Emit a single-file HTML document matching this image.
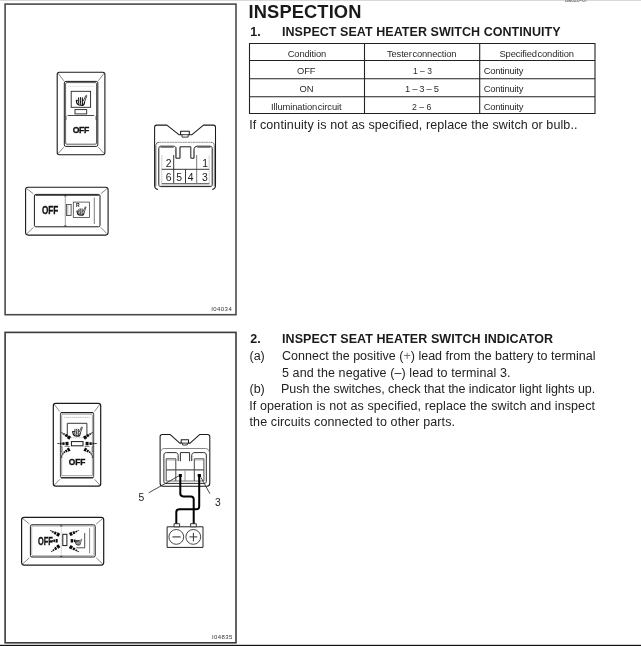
<!DOCTYPE html>
<html><head><meta charset="utf-8">
<style>
html,body{margin:0;padding:0;background:#fff;}
body{filter:grayscale(1);}
body{width:641px;height:646px;position:relative;overflow:hidden;font-family:"Liberation Sans",sans-serif;}
.t{position:absolute;white-space:nowrap;line-height:1;}
svg{position:absolute;left:0;top:0;}
svg text{font-family:"Liberation Sans",sans-serif;stroke:none;}
</style></head><body>
<svg width="641" height="646" viewBox="0 0 641 646" fill="none" stroke="#222" stroke-width="1">
<rect x="0" y="0" width="641" height="0.9" fill="#d4d4d4" stroke="none"/>
<rect x="0" y="644.8" width="641" height="1.2" fill="#111" stroke="none"/>
<rect x="5.1" y="4.1" width="230.9" height="310.6" stroke="#4a4a4a" stroke-width="1.6"/>
<rect x="5.1" y="332.4" width="230.9" height="310.4" stroke="#3a3a3a" stroke-width="1.6"/>
<g stroke="#222" stroke-width="1.1">
<path d="M249.5 43.5H595V113.5H249.5ZM249.5 60.5H595M249.5 78.7H595M249.5 96.7H595M364.5 43.5V113.5M479.7 43.5V113.5"/>
</g>

<g id="vsw1">
<rect x="57.2" y="72.2" width="47.7" height="82.5" rx="2.2" stroke="#1a1a1a" stroke-width="1.1"/>
<path d="M58.2 73.4L63.8 80.8M103.9 73.4L98.4 80.8M58.2 153.3L63.8 147.2M103.9 153.3L98.4 147.2" stroke="#555" stroke-width="0.7"/>
<rect x="64.3" y="81.4" width="33.5" height="65" rx="1.5" stroke="#1a1a1a" stroke-width="1"/>
<rect x="65.6" y="82.6" width="30.9" height="61.6" rx="1.2" stroke="#333" stroke-width="0.8"/>
<path d="M68 86.4H94" stroke="#c4c4c4" stroke-width="0.6" stroke-dasharray="1.2 0.6"/>
<rect x="71.2" y="91.3" width="19.4" height="16" stroke="#222" stroke-width="0.9"/>
<g transform="translate(81.2 100.6)" fill="none" stroke="#111" stroke-linecap="round" stroke-linejoin="round">  <path d="M2.1 0.2 L4.6 -5 C5 -5.6 5.8 -5.2 5.5 -4.4 L3.3 1.6" stroke-width="0.8"/>
  <path d="M-4.9 -0.3 L-3 -0.3" stroke-width="1"/>
  <path d="M-4.8 0 C-4.8 2.2 -3.8 4 -2.4 4.4 L1.6 4.7 C2.8 4.5 3.2 3.2 3.3 1.6" stroke-width="1.2"/>
  <path d="M-2.5 -2.7 C-3.3 -1.6 -1.7 -0.8 -2.5 0.5 C-3.2 1.6 -1.8 2.4 -2.4 3.9" stroke-width="1.05"/>
  <path d="M-0.6 -3 C-1.4 -1.9 0.2 -1.1 -0.6 0.3 C-1.3 1.5 0.1 2.4 -0.5 4" stroke-width="1.05"/>
  <path d="M1.2 -2.7 C0.4 -1.6 2 -0.8 1.2 0.5 C0.5 1.6 1.9 2.4 1.3 3.9" stroke-width="1.05"/></g>
<rect x="75" y="109.6" width="11.7" height="4.3" stroke="#222" stroke-width="0.9"/>
<path d="M67.6 115.5H94.2" stroke="#333" stroke-width="0.9"/>
<path d="M64.6 116.4h1.6v3.2h-1.6M97.4 116.4h-1.6v3.2h1.6" stroke="#444" stroke-width="0.6"/>

</g>
<g id="hsw1">
<rect x="25.6" y="187.3" width="82.5" height="47.8" rx="2.5" stroke="#1a1a1a" stroke-width="1.1"/>
<path d="M27 188.8L33.4 193.8M106.8 188.8L100.8 193.8M27 233.6L33.4 227.4M106.8 233.6L100.8 227.4" stroke="#555" stroke-width="0.7"/>
<rect x="34.4" y="194.4" width="65.6" height="32.4" rx="1.5" stroke="#1a1a1a" stroke-width="1"/>
<path d="M35.5 195.5H99" stroke="#333" stroke-width="0.8"/>
<path d="M65.3 196V226" stroke="#777" stroke-width="0.7"/>
<path d="M63.9 195.8h2.6M63.9 226h2.6" stroke="#333" stroke-width="0.9"/>
<rect x="66.5" y="204.4" width="4.6" height="11" stroke="#333" stroke-width="0.8"/><rect x="66.9" y="204.8" width="1.6" height="10.2" fill="#c8c8c8" stroke="none"/>
<rect x="73.3" y="202.1" width="16.1" height="15.4" stroke="#444" stroke-width="0.8"/>
<g transform="translate(81.2 211.3) scale(0.86)" fill="none" stroke="#111" stroke-linecap="round" stroke-linejoin="round">  <path d="M2.1 0.2 L4.6 -5 C5 -5.6 5.8 -5.2 5.5 -4.4 L3.3 1.6" stroke-width="0.8"/>
  <path d="M-4.9 -0.3 L-3 -0.3" stroke-width="1"/>
  <path d="M-4.8 0 C-4.8 2.2 -3.8 4 -2.4 4.4 L1.6 4.7 C2.8 4.5 3.2 3.2 3.3 1.6" stroke-width="1.2"/>
  <path d="M-2.5 -2.7 C-3.3 -1.6 -1.7 -0.8 -2.5 0.5 C-3.2 1.6 -1.8 2.4 -2.4 3.9" stroke-width="1.05"/>
  <path d="M-0.6 -3 C-1.4 -1.9 0.2 -1.1 -0.6 0.3 C-1.3 1.5 0.1 2.4 -0.5 4" stroke-width="1.05"/>
  <path d="M1.2 -2.7 C0.4 -1.6 2 -0.8 1.2 0.5 C0.5 1.6 1.9 2.4 1.3 3.9" stroke-width="1.05"/></g>

<path d="M94.3 197.6V224" stroke="#444" stroke-width="0.7"/>

</g>
<g id="conn1" stroke-linejoin="round">
<path d="M158 189.6C155.6 189.2 154.6 187.8 154.6 185.6V127.3C154.6 125.8 155.4 125.1 156.8 125.1H166.9L178.9 134.7H180.6V131.2H189.3V134.7H192L203.5 125.1H213.4C214.8 125.1 215.5 125.8 215.5 127.3V185.6C215.5 187.8 214.5 189.2 212.2 189.6" stroke="#1a1a1a" stroke-width="1.05"/>
<path d="M180.6 134.7H189.3M182 134.7V137.1H188.2V134.7" stroke="#222" stroke-width="0.9"/>
<path d="M155.8 186.4V145.6C155.9 143.4 157 142.3 159.2 142.3" stroke="#333" stroke-width="0.8"/>
<path d="M159.2 142.3H211" stroke="#777" stroke-width="0.8" stroke-dasharray="2.2 0.4"/>
<path d="M211 142.3C213.2 142.3 214.3 143.4 214.3 145.6V186.4" stroke="#555" stroke-width="0.8"/>
<path d="M158.8 148.4C158.8 147 159.6 146.2 161 146.2H173.6C175 146.2 175.9 147 175.9 148.6V158.2H180V146.8H190.8V158.2H194V150C194 147.4 195.2 146.2 197.4 146.2H210C211.4 146.2 212.2 147 212.2 148.4V184.8C212.2 186 211.5 186.6 210.3 186.6H160.7C159.5 186.6 158.8 186 158.8 184.8Z" stroke="#1a1a1a" stroke-width="1"/>
<path d="M160.6 147.5H173.8M197.2 147.5H210.4" stroke="#555" stroke-width="0.7"/><path d="M160.2 185.2H210.8" stroke="#999" stroke-width="0.6"/>
<path d="M176.3 147V158.2M179.8 158.2V147M190.5 147V158M193.9 158V150" stroke="#666" stroke-width="0.5"/>
<path d="M161.8 155V184H209.2V155" stroke="#aaa" stroke-width="0.7" stroke-dasharray="1.6 0.5"/><path d="M161.8 183.6H209.2" stroke="#555" stroke-width="0.9"/>
<path d="M161.8 169.3H209.2" stroke="#222" stroke-width="0.9"/>
<path d="M173.7 155V183.1M185.5 169.4V183.1" stroke="#222" stroke-width="0.9"/>
<path d="M196.7 155V183.1" stroke="#555" stroke-width="0.8"/>
</g>
<g id="vsw2">
<rect x="53.3" y="403.4" width="47.4" height="82.8" rx="2.4" stroke="#1a1a1a" stroke-width="1.2"/>
<path d="M54.4 404.6L59.8 411.6M99.6 404.6L94.4 411.6M54.4 484.9L59.9 479.3M99.7 484.9L94.6 479.3" stroke="#555" stroke-width="0.7"/>
<rect x="60.4" y="412.6" width="33.3" height="65.2" rx="1.5" stroke="#3a3a3a" stroke-width="0.95"/>
<path d="M61.7 475.7V415.4C61.7 414.6 62.1 414.2 62.9 414.2H91.2C92 414.2 92.4 414.6 92.4 415.4V475.7Z" stroke="#777" stroke-width="0.7"/>
<path d="M60.9 412.6H93.2M60.9 477.8H93.2" stroke="#1a1a1a" stroke-width="1"/>
<path d="M64.4 446.5H70M84.4 446.5H89.6" stroke="#666" stroke-width="0.7"/>
<path d="M64.2 417.4H89.9" stroke="#999" stroke-width="0.6" stroke-dasharray="1.4 0.5"/>
<path d="M67.3 437V423.3H86.9V437" stroke="#222" stroke-width="0.9"/>
<path d="M71 437.8H83.4" stroke="#999" stroke-width="0.6" stroke-dasharray="1 0.6"/>
<g transform="translate(77.2 431.8) scale(0.92)" fill="none" stroke="#111" stroke-linecap="round" stroke-linejoin="round">  <path d="M2.1 0.2 L4.6 -5 C5 -5.6 5.8 -5.2 5.5 -4.4 L3.3 1.6" stroke-width="0.8"/>
  <path d="M-4.9 -0.3 L-3 -0.3" stroke-width="1"/>
  <path d="M-4.8 0 C-4.8 2.2 -3.8 4 -2.4 4.4 L1.6 4.7 C2.8 4.5 3.2 3.2 3.3 1.6" stroke-width="1.2"/>
  <path d="M-2.5 -2.7 C-3.3 -1.6 -1.7 -0.8 -2.5 0.5 C-3.2 1.6 -1.8 2.4 -2.4 3.9" stroke-width="1.05"/>
  <path d="M-0.6 -3 C-1.4 -1.9 0.2 -1.1 -0.6 0.3 C-1.3 1.5 0.1 2.4 -0.5 4" stroke-width="1.05"/>
  <path d="M1.2 -2.7 C0.4 -1.6 2 -0.8 1.2 0.5 C0.5 1.6 1.9 2.4 1.3 3.9" stroke-width="1.05"/></g>
<rect x="71.4" y="441.6" width="11.6" height="4.2" stroke="#1a1a1a" stroke-width="1"/>
<g transform="translate(68.5 443.6) rotate(180) scale(0.991 1)" stroke="none" fill="#0c0c0c"><rect x="0" y="-1.75" width="3" height="3.5"/>
<rect x="3.9" y="-1.3" width="2.3" height="2.6"/>
<rect x="7" y="-0.8" width="1.7" height="1.6"/>
<path d="M9.2 -0.5L11.3 -0.3V0.3L9.2 0.5Z" fill="#222"/></g>
<g transform="translate(85.6 443.6) rotate(0) scale(0.991 1)" stroke="none" fill="#0c0c0c"><rect x="0" y="-1.75" width="3" height="3.5"/>
<rect x="3.9" y="-1.3" width="2.3" height="2.6"/>
<rect x="7" y="-0.8" width="1.7" height="1.6"/>
<path d="M9.2 -0.5L11.3 -0.3V0.3L9.2 0.5Z" fill="#222"/></g>
<g transform="translate(70.2 438.2) rotate(213.7) scale(0.956 1)" stroke="none" fill="#0c0c0c"><rect x="0" y="-1.75" width="3" height="3.5"/>
<rect x="3.9" y="-1.3" width="2.3" height="2.6"/>
<rect x="7" y="-0.8" width="1.7" height="1.6"/>
<path d="M9.2 -0.5L11.3 -0.3V0.3L9.2 0.5Z" fill="#222"/></g>
<g transform="translate(83.9 438.2) rotate(-33.7) scale(0.956 1)" stroke="none" fill="#0c0c0c"><rect x="0" y="-1.75" width="3" height="3.5"/>
<rect x="3.9" y="-1.3" width="2.3" height="2.6"/>
<rect x="7" y="-0.8" width="1.7" height="1.6"/>
<path d="M9.2 -0.5L11.3 -0.3V0.3L9.2 0.5Z" fill="#222"/></g>
<g transform="translate(69.7 448.9) rotate(148.6) scale(0.796 1)" stroke="none" fill="#0c0c0c"><rect x="0" y="-1.75" width="3" height="3.5"/>
<rect x="3.9" y="-1.3" width="2.3" height="2.6"/>
<rect x="7" y="-0.8" width="1.7" height="1.6"/>
<path d="M9.2 -0.5L11.3 -0.3V0.3L9.2 0.5Z" fill="#222"/></g>
<g transform="translate(84.3 448.9) rotate(31.4) scale(0.796 1)" stroke="none" fill="#0c0c0c"><rect x="0" y="-1.75" width="3" height="3.5"/>
<rect x="3.9" y="-1.3" width="2.3" height="2.6"/>
<rect x="7" y="-0.8" width="1.7" height="1.6"/>
<path d="M9.2 -0.5L11.3 -0.3V0.3L9.2 0.5Z" fill="#222"/></g>
<path d="M61.7 458V456.4C61.9 455 62.7 454.2 63.8 453.7M92.4 458V456.4C92.2 455 91.4 454.2 90.3 453.7" stroke="#222" stroke-width="0.9"/>
<path d="M60.6 446.8h1.5v4.6h-1.5M93.6 446.8h-1.5v4.6h1.5" stroke="#444" stroke-width="0.6"/>
</g>
<g id="hsw2">
<rect x="21.6" y="517.3" width="82.1" height="47.8" rx="2.5" stroke="#1a1a1a" stroke-width="1.2"/>
<path d="M23 518.8L29.4 524M102.4 518.8L96.2 524M23 563.6L29.4 557.8M102.4 563.6L96.2 557.8" stroke="#555" stroke-width="0.7"/>
<rect x="30.4" y="524.8" width="64.8" height="32.2" rx="1.5" stroke="#1a1a1a" stroke-width="1"/>
<rect x="31.7" y="526.1" width="62.2" height="29.5" rx="1.2" stroke="#8a8a8a" stroke-width="0.6"/>
<path d="M61.3 526.4V555.6" stroke="#aaa" stroke-width="0.6" stroke-dasharray="1.2 0.6"/>
<path d="M60 525.9h2.4M60 556.4h2.4" stroke="#333" stroke-width="0.9"/>
<rect x="62.8" y="534.3" width="4.1" height="11.3" stroke="#1a1a1a" stroke-width="1"/>
<g transform="translate(57.7 540.8) rotate(180) scale(0.708 1)" stroke="none" fill="#0c0c0c"><rect x="0" y="-1.75" width="3" height="3.5"/>
<rect x="3.9" y="-1.3" width="2.3" height="2.6"/>
<rect x="7" y="-0.8" width="1.7" height="1.6"/>
<path d="M9.2 -0.5L11.3 -0.3V0.3L9.2 0.5Z" fill="#222"/></g>
<g transform="translate(59.4 535.2) rotate(207.5) scale(0.938 1)" stroke="none" fill="#0c0c0c"><rect x="0" y="-1.75" width="3" height="3.5"/>
<rect x="3.9" y="-1.3" width="2.3" height="2.6"/>
<rect x="7" y="-0.8" width="1.7" height="1.6"/>
<path d="M9.2 -0.5L11.3 -0.3V0.3L9.2 0.5Z" fill="#222"/></g>
<g transform="translate(59.4 545.7) rotate(143.1) scale(0.929 1)" stroke="none" fill="#0c0c0c"><rect x="0" y="-1.75" width="3" height="3.5"/>
<rect x="3.9" y="-1.3" width="2.3" height="2.6"/>
<rect x="7" y="-0.8" width="1.7" height="1.6"/>
<path d="M9.2 -0.5L11.3 -0.3V0.3L9.2 0.5Z" fill="#222"/></g>
<g transform="translate(69.7 534.5) rotate(-24) scale(0.912 1)" stroke="none" fill="#0c0c0c"><rect x="0" y="-1.75" width="3" height="3.5"/>
<rect x="3.9" y="-1.3" width="2.3" height="2.6"/>
<rect x="7" y="-0.8" width="1.7" height="1.6"/>
<path d="M9.2 -0.5L11.3 -0.3V0.3L9.2 0.5Z" fill="#222"/></g>
<g transform="translate(70.7 540.8) rotate(0) scale(0.796 1)" stroke="none" fill="#0c0c0c"><rect x="0" y="-1.75" width="3" height="3.5"/>
<rect x="3.9" y="-1.3" width="2.3" height="2.6"/>
<rect x="7" y="-0.8" width="1.7" height="1.6"/>
<path d="M9.2 -0.5L11.3 -0.3V0.3L9.2 0.5Z" fill="#222"/></g>
<g transform="translate(69.7 546.4) rotate(30.8) scale(0.965 1)" stroke="none" fill="#0c0c0c"><rect x="0" y="-1.75" width="3" height="3.5"/>
<rect x="3.9" y="-1.3" width="2.3" height="2.6"/>
<rect x="7" y="-0.8" width="1.7" height="1.6"/>
<path d="M9.2 -0.5L11.3 -0.3V0.3L9.2 0.5Z" fill="#222"/></g>
<path d="M84.7 533V547.8H76.3" stroke="#222" stroke-width="0.8"/>
<g transform="translate(78.4 542.2) scale(0.62)" fill="none" stroke="#111" stroke-linecap="round" stroke-linejoin="round">  <path d="M2.1 0.2 L4.6 -5 C5 -5.6 5.8 -5.2 5.5 -4.4 L3.3 1.6" stroke-width="0.8"/>
  <path d="M-4.9 -0.3 L-3 -0.3" stroke-width="1"/>
  <path d="M-4.8 0 C-4.8 2.2 -3.8 4 -2.4 4.4 L1.6 4.7 C2.8 4.5 3.2 3.2 3.3 1.6" stroke-width="1.2"/>
  <path d="M-2.5 -2.7 C-3.3 -1.6 -1.7 -0.8 -2.5 0.5 C-3.2 1.6 -1.8 2.4 -2.4 3.9" stroke-width="1.05"/>
  <path d="M-0.6 -3 C-1.4 -1.9 0.2 -1.1 -0.6 0.3 C-1.3 1.5 0.1 2.4 -0.5 4" stroke-width="1.05"/>
  <path d="M1.2 -2.7 C0.4 -1.6 2 -0.8 1.2 0.5 C0.5 1.6 1.9 2.4 1.3 3.9" stroke-width="1.05"/></g>
<path d="M89.6 528.2V553.4" stroke="#555" stroke-width="0.7"/>
</g>
<g id="conn2" stroke-linejoin="round">
<path d="M160.1 483.2V436.6C160.1 435.1 160.9 434.4 162.3 434.4H170L179.8 443.1H181.2V439.8H188.5V443.1H190.1L199.9 434.4H207.6C209 434.4 209.8 435.1 209.8 436.6V483.2C209.8 485.2 208.8 486.2 206.8 486.2H163.1C161.1 486.2 160.1 485.2 160.1 483.2Z" stroke="#1a1a1a" stroke-width="1.05"/>
<path d="M181.2 443.1H188.5M182.6 443.1V445H187.3V443.1" stroke="#222" stroke-width="0.9"/>
<path d="M160.3 453C160.7 450.2 161.9 448.6 164.4 448.5H205.5C208 448.6 209.2 450.2 209.6 453" stroke="#666" stroke-width="0.8"/>
<path d="M178.2 461V455.8C178.2 453.6 177.1 452.6 174.9 452.6H166.4C164.8 452.6 163.9 453.4 163.9 455V481.6C163.9 482.8 164.6 483.4 165.8 483.4H204.4C205.6 483.4 206.3 482.8 206.3 481.6V455C206.3 453.4 205.4 452.6 203.8 452.6H195C192.8 452.6 191.7 453.6 191.7 455.8V461" stroke="#222" stroke-width="0.95"/>
<path d="M180.4 461.2V452.6H189.6V461.2" stroke="#222" stroke-width="0.95"/>
<path d="M177.2 456V460.6M192.7 456V460.6" stroke="#aaa" stroke-width="0.6" stroke-dasharray="1 0.5"/>
<path d="M166.2 481V458.8H175.8V481M194.3 481V458.8H203.9V481" stroke="#333" stroke-width="0.9"/>
<path d="M166.6 460.2H175.4M194.7 460.2H203.5" stroke="#999" stroke-width="0.6"/>
<path d="M166.2 469.8H203.9" stroke="#555" stroke-width="1.3"/>
<path d="M185 470.4V481" stroke="#999" stroke-width="1"/>
<path d="M166.2 481H203.9" stroke="#555" stroke-width="0.8"/>
<rect x="178.8" y="474" width="3" height="3" fill="#000" stroke="none"/>
<rect x="197.7" y="474" width="3.2" height="3" fill="#000" stroke="none"/>
<path d="M180.3 476V493.6C180.3 495.6 181.2 496.4 183.2 496.4H190.8C192.8 496.4 193.7 497.3 193.7 499.2V524" stroke="#000" stroke-width="2"/>
<path d="M199.2 476V506.4C199.2 508.4 198.3 509.3 196.3 509.3H179.2C177.2 509.3 176.3 510.2 176.3 512.2V524" stroke="#000" stroke-width="2"/>
<rect x="167.1" y="526.8" width="35.9" height="20.6" stroke="#222" stroke-width="1"/>
<rect x="174" y="523.7" width="5.6" height="3.1" stroke="#222" stroke-width="0.9" fill="#fff"/>
<rect x="190.6" y="523.7" width="5.7" height="3.1" stroke="#222" stroke-width="0.9" fill="#fff"/>
<circle cx="176.3" cy="536.9" r="7.4" stroke="#333" stroke-width="0.9"/>
<circle cx="193.3" cy="536.9" r="7.4" stroke="#333" stroke-width="0.9"/>
<path d="M172.4 536.9H180.6" stroke="#555" stroke-width="1.3"/>
<path d="M189.5 536.9H197.3M193.4 532.8V541.4" stroke="#333" stroke-width="1"/>
<path d="M148.7 492.8L178.8 475.9M209.9 493.7L200.9 477.3" stroke="#2a2a2a" stroke-width="0.85"/>
</g>
</svg>

<div class="t" style="left:248.60px;top:2.51px;font-size:18.3px;color:#1a1a1a;font-weight:bold;letter-spacing:0.119px;">INSPECTION</div>
<div class="t" style="left:250.20px;top:25.92px;font-size:12.5px;color:#1a1a1a;font-weight:bold;">1.</div>
<div class="t" style="left:282.00px;top:25.92px;font-size:12.5px;color:#1a1a1a;font-weight:bold;letter-spacing:0.053px;">INSPECT SEAT HEATER SWITCH CONTINUITY</div>
<div class="t" style="left:287.70px;top:48.74px;font-size:9.4px;color:#2a2a2a;letter-spacing:-0.137px;">Condition</div>
<div class="t" style="left:387.00px;top:48.74px;font-size:9.4px;color:#2a2a2a;letter-spacing:-0.154px;word-spacing:-1.6px;">Tester connection</div>
<div class="t" style="left:499.50px;top:48.74px;font-size:9.4px;color:#2a2a2a;letter-spacing:-0.138px;word-spacing:-1.8px;">Specified condition</div>
<div class="t" style="left:297.00px;top:65.84px;font-size:9.4px;color:#2a2a2a;letter-spacing:-0.159px;">OFF</div>
<div class="t" style="left:412.50px;top:65.84px;font-size:9.4px;color:#2a2a2a;transform-origin:0 0;transform:scaleX(0.906);">1 – 3</div>
<div class="t" style="left:483.70px;top:65.84px;font-size:9.4px;color:#2a2a2a;letter-spacing:-0.222px;">Continuity</div>
<div class="t" style="left:299.50px;top:84.24px;font-size:9.4px;color:#2a2a2a;letter-spacing:-0.092px;">ON</div>
<div class="t" style="left:405.00px;top:84.24px;font-size:9.4px;color:#2a2a2a;letter-spacing:-0.322px;">1 – 3 – 5</div>
<div class="t" style="left:483.70px;top:84.24px;font-size:9.4px;color:#2a2a2a;letter-spacing:-0.222px;">Continuity</div>
<div class="t" style="left:271.00px;top:101.74px;font-size:9.4px;color:#2a2a2a;letter-spacing:-0.111px;word-spacing:-1.8px;">Illumination circuit</div>
<div class="t" style="left:412.00px;top:101.74px;font-size:9.4px;color:#2a2a2a;transform-origin:0 0;transform:scaleX(0.930);">2 – 6</div>
<div class="t" style="left:483.70px;top:101.74px;font-size:9.4px;color:#2a2a2a;letter-spacing:-0.222px;">Continuity</div>
<div class="t" style="left:249.20px;top:119.12px;font-size:12.5px;color:#222;letter-spacing:0.106px;">If continuity is not as specified, replace the switch or bulb..</div>
<div class="t" style="left:250.20px;top:332.92px;font-size:12.5px;color:#1a1a1a;font-weight:bold;">2.</div>
<div class="t" style="left:282.00px;top:332.92px;font-size:12.5px;color:#1a1a1a;font-weight:bold;letter-spacing:0.072px;">INSPECT SEAT HEATER SWITCH INDICATOR</div>
<div class="t" style="left:249.50px;top:349.92px;font-size:12.5px;color:#222;">(a)</div>
<div class="t" style="left:282.00px;top:349.92px;font-size:12.5px;color:#222;letter-spacing:0.021px;">Connect the positive (<span style="color:#707070">+</span>) lead from the battery to terminal</div>
<div class="t" style="left:282.00px;top:367.02px;font-size:12.5px;color:#222;letter-spacing:0.098px;">5 and the negative (–) lead to terminal 3.</div>
<div class="t" style="left:249.50px;top:383.12px;font-size:12.5px;color:#222;">(b)</div>
<div class="t" style="left:281.00px;top:383.12px;font-size:12.5px;color:#222;letter-spacing:-0.033px;">Push the switches, check that the indicator light lights up.</div>
<div class="t" style="left:249.20px;top:400.02px;font-size:12.5px;color:#222;letter-spacing:0.095px;">If operation is not as specified, replace the switch and inspect</div>
<div class="t" style="left:249.50px;top:415.72px;font-size:12.5px;color:#222;letter-spacing:0.108px;">the circuits connected to other parts.</div>
<div class="t" style="left:211.20px;top:306.02px;font-size:6.0px;color:#333;letter-spacing:0.437px;">I04034</div>
<div class="t" style="left:211.90px;top:634.42px;font-size:6.0px;color:#333;letter-spacing:0.437px;">I04835</div>
<div class="t" style="left:72.70px;top:125.92px;font-size:8.6px;color:#111;font-weight:bold;letter-spacing:-0.317px;-webkit-text-stroke:0.35px #111;">OFF</div>
<div class="t" style="left:42.10px;top:204.73px;font-size:10.6px;color:#111;transform-origin:0 0;transform:scaleX(0.769);font-weight:bold;-webkit-text-stroke:0.35px #111;">OFF</div>
<div class="t" style="left:76.10px;top:203.47px;font-size:5.0px;color:#111;font-weight:bold;">R</div>
<div class="t" style="left:165.80px;top:158.70px;font-size:10.4px;color:#1a1a1a;">2</div>
<div class="t" style="left:202.20px;top:158.70px;font-size:10.4px;color:#1a1a1a;">1</div>
<div class="t" style="left:165.80px;top:172.90px;font-size:10.4px;color:#1a1a1a;">6</div>
<div class="t" style="left:176.20px;top:172.90px;font-size:10.4px;color:#1a1a1a;">5</div>
<div class="t" style="left:187.70px;top:172.90px;font-size:10.4px;color:#1a1a1a;">4</div>
<div class="t" style="left:201.90px;top:172.90px;font-size:10.4px;color:#1a1a1a;">3</div>
<div class="t" style="left:68.70px;top:457.89px;font-size:8.4px;color:#111;font-weight:bold;letter-spacing:-0.065px;-webkit-text-stroke:0.35px #111;">OFF</div>
<div class="t" style="left:38.10px;top:535.56px;font-size:10.8px;color:#111;transform-origin:0 0;transform:scaleX(0.682);font-weight:bold;-webkit-text-stroke:0.35px #111;">OFF</div>
<div class="t" style="left:138.60px;top:493.28px;font-size:10.3px;color:#1a1a1a;">5</div>
<div class="t" style="left:215.00px;top:497.88px;font-size:10.3px;color:#1a1a1a;">3</div>
<div class="t" style="left:564.50px;top:-1.77px;font-size:5.4px;color:#555;transform-origin:0 0;transform:scaleX(0.883);">BE0Z0–07</div>
</body></html>
